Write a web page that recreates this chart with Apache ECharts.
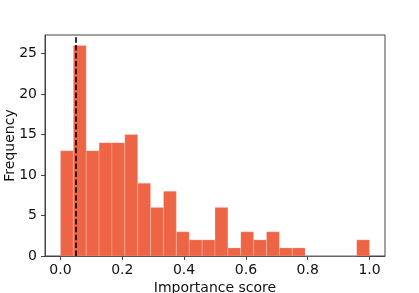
<!DOCTYPE html>
<html>
<head>
<meta charset="utf-8">
<script src="https://cdn.jsdelivr.net/npm/echarts@6/dist/echarts.min.js"></script>
<style>html,body{margin:0;padding:0;background:#fff;}#c{width:419px;height:293px;}</style>
</head>
<body>
<div id="c"></div>
<script>
// Histogram data (24 equal bins spanning 0..1)
const binMin = 0.0;
const binMax = 1.0;
const counts = [13, 26, 13, 14, 14, 15, 9, 6, 8, 3, 2, 2, 6, 1, 3, 2, 3, 1, 1, 0, 0, 0, 0, 2];
const thresholdValue = [0.046];
const xTicks = [0.0, 0.2, 0.4, 0.6, 0.8, 1.0];
const yTicks = [0, 5, 10, 15, 20, 25];
const xTitle = 'Importance score';
const yTitle = 'Frequency';

const binWidth = (binMax - binMin) / counts.length;
const bins = counts.map((c, i) => [binMin + i * binWidth, binMin + (i + 1) * binWidth, c]);

const font = 'DejaVu Sans';
const chart = echarts.init(document.getElementById('c'), null, {renderer: 'canvas'});
chart.setOption({
  animation: false,
  backgroundColor: '#fff',
  grid: {left: 45, right: 34, top: 35, bottom: 37, containLabel: false, outerBoundsMode: 'none',
    show: true, borderColor: '#444', borderWidth: 1, backgroundColor: 'transparent'},
  xAxis: {
    type: 'value', min: -0.05, max: 1.05, splitNumber: 5,
    name: xTitle, nameLocation: 'middle', nameGap: 25, nameMoveOverlap: false,
    nameTextStyle: {fontFamily: font, fontSize: 14, color: '#111'},
    axisLine: {show: true, onZero: false, lineStyle: {color: '#444', width: 1}},
    axisTick: {show: true, length: 4, lineStyle: {color: '#444'},
      customValues: xTicks},
    axisLabel: {fontFamily: font, fontSize: 14, color: '#111', margin: 7,
      customValues: xTicks,
      formatter: v => xTicks.some(t => Math.abs(t - v) < 1e-6) ? v.toFixed(1) : ''},
    splitLine: {show: false}
  },
  yAxis: {
    type: 'value', min: 0, max: 27.3, interval: 5,
    name: yTitle, nameLocation: 'middle', nameGap: 28, nameMoveOverlap: false,
    nameTextStyle: {fontFamily: font, fontSize: 14, color: '#111'},
    axisLine: {show: true, onZero: false, lineStyle: {color: '#444', width: 1}},
    axisTick: {show: true, length: 4, lineStyle: {color: '#444'},
      customValues: yTicks},
    axisLabel: {fontFamily: font, fontSize: 14, color: '#111', margin: 8,
      customValues: yTicks,
      formatter: v => yTicks.indexOf(v) >= 0 ? String(v) : ''},
    splitLine: {show: false}
  },
  series: [{
    type: 'custom',
    data: bins,
    encode: {x: [0, 1], y: 2},
    renderItem: function (params, api) {
      const p0 = api.coord([api.value(0), 0]);
      const p1 = api.coord([api.value(1), api.value(2)]);
      return {
        type: 'rect',
        shape: {x: p0[0], y: p1[1], width: p1[0] - p0[0], height: p0[1] - p1[1]},
        style: {fill: '#EE6546', stroke: 'rgba(255,255,255,0.25)', lineWidth: 0.8}
      };
    },
    markLine: {
      silent: true, symbol: 'none', label: {show: false},
      lineStyle: {color: '#000', width: 1.6, type: [5.5, 2.4]},
      data: thresholdValue.map(v => ({xAxis: v}))
    },
    z: 2
  }]
});
</script>
</body>
</html>
